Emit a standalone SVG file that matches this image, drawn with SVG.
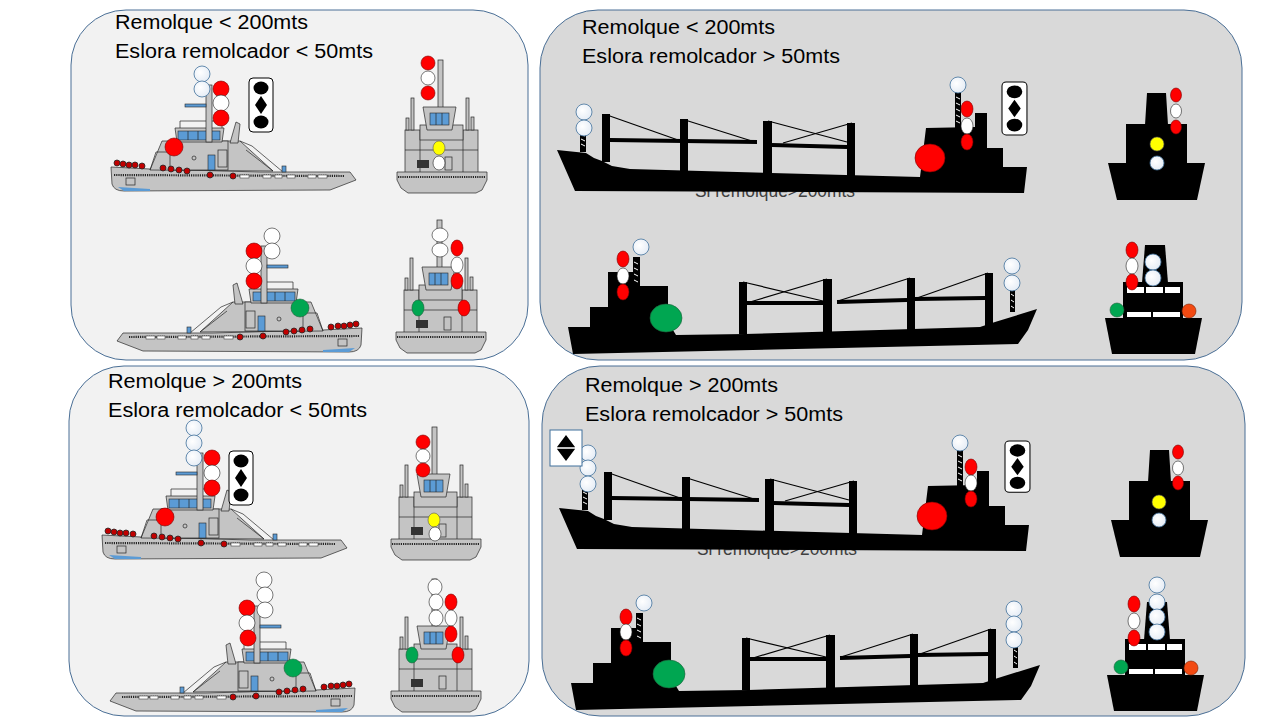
<svg xmlns="http://www.w3.org/2000/svg" xmlns:xlink="http://www.w3.org/1999/xlink" width="1280" height="720" viewBox="0 0 1280 720">
<style>
.pl{stroke:#4a6f96;stroke-width:1}
.t{font-family:"Liberation Sans",Arial,sans-serif;font-size:20px;fill:#000}
.h{font-family:"Liberation Sans",Arial,sans-serif;font-size:18px;fill:#404040}
.w{fill:url(#wl);stroke:#41719c;stroke-width:0.8}
.wb{fill:#fff;stroke:#222;stroke-width:0.6}
.r{fill:#ff0000;stroke:#7a0000;stroke-width:0.6}
.g{fill:#00a651;stroke:#1f5f3a;stroke-width:0.6}
.y{fill:#ffff00;stroke:#555;stroke-width:0.6}
.o{fill:#f24a12;stroke:#7a2000;stroke-width:0.6}
.k{fill:#000}
.ln{fill:none;stroke:#262626;stroke-width:0.7}
.gr{fill:#c4c4c4;stroke:#262626;stroke-width:0.7}
.bl{fill:#5b9bd5;stroke:#262626;stroke-width:0.6}
.st{stroke:#000;stroke-width:1.2}
.bm{stroke:#000;stroke-width:4}
.lat{stroke:#fff;stroke-width:1}
.box{fill:#fff;stroke:#000;stroke-width:1}
</style>
<defs>
<radialGradient id="wl" cx="0.4" cy="0.4" r="0.7">
<stop offset="0" stop-color="#ffffff"/>
<stop offset="1" stop-color="#e2eaf4"/>
</radialGradient>
<g id="tugSide">
<path class="gr" d="M111,167 L112,184 Q114,191 124,191 L330,190 L356,180 L350,172 L260,172 L150,169 Z" fill="#c9c9c9"/>
<path d="M118,187 L150,189 L150,191 L124,191 Z" fill="#5b9bd5"/>
<line x1="114" y1="175" x2="345" y2="176" stroke="#262626" stroke-width="2.2" stroke-dasharray="1.2,1"/>
<path class="gr" d="M150,170 L162,141 L240,141 L273,171 Z"/>
<path class="ln" d="M150,170 L156,152 L170,152 M240,141 L252,146 L283,172 M246,150 L273,171"/>
<rect class="gr" x="170" y="141" width="58" height="29"/>
<path class="gr" d="M175,128 L224,128 L222,142 L177,142 Z"/>
<rect class="bl" x="178" y="131" width="42" height="9"/>
<path class="ln" d="M188,131 V140 M198,131 V140 M210,131 V140 M180,128 V121 H222 V128"/>
<rect class="gr" x="206" y="85" width="6" height="57"/>
<rect class="bl" x="185" y="104" width="21" height="3"/>
<path class="gr" d="M230,143 L236,122 L240,124 L238,143 Z"/>
<rect class="gr" x="218" y="150" width="9" height="17"/>
<rect class="bl" x="208" y="155" width="7" height="15"/>
<circle class="ln" cx="194" cy="158" r="2"/>
<rect class="ln" x="126" y="178" width="9" height="7"/>
<rect class="bl" x="282" y="166" width="4" height="6"/>
<g fill="#c00000" stroke="#262626" stroke-width="0.8">
<circle cx="117" cy="163" r="3"/><circle cx="123" cy="164" r="3"/><circle cx="129" cy="165" r="3"/><circle cx="135" cy="165" r="3"/><circle cx="142" cy="166" r="3"/>
<circle cx="163" cy="168" r="3"/><circle cx="171" cy="169" r="3"/><circle cx="179" cy="170" r="3"/><circle cx="187" cy="171" r="3"/>
<circle cx="210" cy="175" r="3"/><circle cx="233" cy="176" r="3"/>
</g>
<g fill="#fff" stroke="#262626" stroke-width="0.5">
<rect x="240" y="175" width="9" height="3"/><rect x="263" y="175" width="8" height="3"/><rect x="275" y="175" width="7" height="3"/><rect x="287" y="175" width="8" height="3"/><rect x="308" y="175" width="8" height="3"/><rect x="318" y="175" width="9" height="3"/>
</g>
</g>
<g id="tugFront">
<rect class="gr" x="405" y="130" width="73" height="43"/>
<path class="ln" d="M420,130 V172 M463,130 V172 M405,150 H478"/>
<rect class="gr" x="420" y="125" width="43" height="15" fill="#d9d9d9"/>
<rect class="gr" x="438" y="60" width="5" height="48"/>
<path class="gr" d="M423,107 L456,107 L452,130 L427,130 Z"/>
<rect class="bl" x="430" y="113" width="19" height="12"/>
<path class="ln" d="M436,113 V125 M442,113 V125"/>
<rect class="gr" x="406" y="118" width="3" height="12"/>
<rect class="gr" x="411" y="98" width="3" height="32"/>
<rect class="gr" x="466" y="98" width="3" height="32"/>
<rect class="gr" x="471" y="117" width="3" height="13"/>
<rect x="417" y="160" width="12" height="8" fill="#333"/>
<rect class="gr" x="445" y="157" width="7" height="13" fill="#e0e0e0"/>
<path class="gr" d="M397,172 L487,172 L487,180 L482,190 L476,193 L408,193 L401,188 L397,180 Z" fill="#d0d0d0"/>
<line x1="398" y1="177" x2="486" y2="177" stroke="#262626" stroke-width="2.2" stroke-dasharray="1.2,1"/>
</g>
<g id="cargoA">
<path class="k" d="M557,150 L586,153 L594,158 L602,161 L612,166 L630,169 L920,177 L926,128 L975,127 L975,113 L987,113 L987,148 L1003,148 L1003,167 L1027,167 L1024,193 L575,191 Z"/>
<rect class="k" x="602" y="114" width="8" height="48"/>
<rect class="k" x="680" y="119" width="8" height="53"/>
<rect class="k" x="763" y="121" width="9" height="55"/>
<rect class="k" x="847" y="123" width="8" height="54"/>
<line class="bm" x1="610" y1="140" x2="757" y2="142"/>
<line class="bm" x1="772" y1="145" x2="847" y2="147"/>
<line class="st" x1="607" y1="115" x2="678" y2="140"/>
<line class="st" x1="685" y1="120" x2="755" y2="142"/>
<line class="st" x1="768" y1="121" x2="847" y2="142"/>
<line class="st" x1="852" y1="123" x2="783" y2="143"/>
<rect class="k" x="580" y="130" width="6" height="22"/>
<path class="lat" d="M581,134 L585,136 M581,139 L585,141 M581,144 L585,146"/>
<rect class="k" x="955" y="92" width="6" height="36"/>
<path class="lat" d="M956,97 L960,99 M956,103 L960,105 M956,109 L960,111 M956,115 L960,117 M956,121 L960,123"/>
</g>
<g id="cargoB">
<path class="k" d="M568,327 L590,327 L590,307 L608,307 L608,272 L633,272 L633,286 L668,286 L668,322 L676,335 L745,334 L980,327 L995,322 L1037,309 L1028,330 L1018,344 L573,354 Z"/>
<rect class="k" x="739" y="282" width="8" height="52"/>
<rect class="k" x="823" y="279" width="9" height="54"/>
<rect class="k" x="907" y="278" width="8" height="52"/>
<rect class="k" x="985" y="273" width="8" height="55"/>
<line class="bm" x1="747" y1="303" x2="823" y2="303"/>
<line class="bm" x1="837" y1="302" x2="907" y2="300"/>
<line class="bm" x1="915" y1="299" x2="985" y2="298"/>
<line class="st" x1="743" y1="282" x2="823" y2="301"/>
<line class="st" x1="827" y1="279" x2="750" y2="302"/>
<line class="st" x1="910" y1="278" x2="838" y2="301"/>
<line class="st" x1="988" y1="273" x2="917" y2="298"/>
<rect class="k" x="633" y="257" width="7" height="30"/>
<path class="lat" d="M634,262 L638,264 M634,268 L638,270 M634,274 L638,276 M634,280 L638,282"/>
<rect class="k" x="1010" y="290" width="5" height="22"/>
<path class="lat" d="M1011,294 L1014,296 M1011,300 L1014,302 M1011,306 L1014,308"/>
</g>
<g id="frontA">
<path class="k" d="M1147,93 L1166,93 L1168,125 L1145,125 Z"/>
<rect class="k" x="1126" y="124" width="61" height="40"/>
<path class="k" d="M1108,163 L1205,163 L1197,200 L1117,200 Z"/>
</g>
<g id="frontB">
<path class="k" d="M1145,245 L1165,245 L1168,283 L1142,283 Z"/>
<rect class="k" x="1123" y="282" width="60" height="37"/>
<g fill="#fff"><rect x="1127" y="287" width="17" height="6"/><rect x="1146" y="287" width="17" height="6"/><rect x="1165" y="287" width="15" height="6"/>
<rect x="1127" y="312" width="24" height="5"/><rect x="1153" y="312" width="27" height="5"/></g>
<path class="k" d="M1105,318 L1202,318 L1195,354 L1112,354 Z"/>
</g>
<g id="sig">
<rect class="box" x="0" y="0" width="24" height="54" rx="4"/>
<ellipse class="k" cx="12" cy="10" rx="7.5" ry="6.5"/>
<path class="k" d="M12,18 L18,27 L12,36 L6,27 Z"/>
<ellipse class="k" cx="12" cy="44" rx="7.5" ry="6.5"/>
</g>
</defs>

<rect width="1280" height="720" fill="#fff"/>

<g id="panel-tl">
<rect class="pl" x="71" y="10" width="457" height="350" rx="55" fill="#f2f2f2"/>
<text class="t" x="115" y="29" textLength="193" lengthAdjust="spacingAndGlyphs">Remolque &lt; 200mts</text>
<text class="t" x="115" y="58" textLength="258" lengthAdjust="spacingAndGlyphs">Eslora remolcador &lt; 50mts</text>
<use xlink:href="#tugSide"/>
<circle class="w" cx="202" cy="74" r="8"/><circle class="w" cx="202" cy="89" r="8"/>
<circle class="r" cx="221" cy="89" r="8"/><circle class="wb" cx="221" cy="103" r="8"/><circle class="r" cx="221" cy="118" r="8"/>
<circle class="r" cx="174" cy="147" r="9"/>
<use xlink:href="#sig" transform="translate(249,78)"/>
<use xlink:href="#tugFront"/>
<ellipse class="r" cx="428" cy="63" rx="7" ry="7"/><ellipse class="wb" cx="428" cy="78" rx="7" ry="7"/><ellipse class="r" cx="428" cy="93" rx="7" ry="7"/>
<ellipse class="y" cx="439" cy="148" rx="6" ry="7"/><ellipse class="wb" cx="439" cy="163" rx="6" ry="7"/>
<use xlink:href="#tugSide" transform="translate(473,161) scale(-1,1)"/>
<circle class="wb" cx="272" cy="236" r="8"/><circle class="wb" cx="272" cy="251" r="8"/>
<circle class="r" cx="254" cy="251" r="8"/><circle class="wb" cx="254" cy="266" r="8"/><circle class="r" cx="254" cy="281" r="8"/>
<circle class="g" cx="300" cy="308" r="9"/>
<use xlink:href="#tugFront" transform="translate(-1,160)"/>
<ellipse class="wb" cx="440" cy="235" rx="8" ry="7"/><ellipse class="wb" cx="440" cy="250" rx="8" ry="7"/>
<ellipse class="r" cx="457" cy="248" rx="6" ry="8"/><ellipse class="wb" cx="457" cy="265" rx="6" ry="8"/><ellipse class="r" cx="457" cy="281" rx="6" ry="8"/>
<ellipse class="g" cx="418" cy="308" rx="6" ry="8"/><ellipse class="r" cx="464" cy="308" rx="6" ry="8"/>
</g>

<g id="panel-tr">
<rect class="pl" x="540" y="10" width="702" height="350" rx="58" fill="#d9d9d9"/>
<text class="t" x="582" y="34" textLength="193" lengthAdjust="spacingAndGlyphs">Remolque &lt; 200mts</text>
<text class="t" x="582" y="63" textLength="258" lengthAdjust="spacingAndGlyphs">Eslora remolcador &gt; 50mts</text>
<text class="h" x="695" y="197" textLength="160" lengthAdjust="spacingAndGlyphs">Si remolque&gt;200mts</text>
<use xlink:href="#cargoA"/>
<circle class="w" cx="584" cy="112" r="8"/><circle class="w" cx="584" cy="128" r="8"/>
<circle class="w" cx="958" cy="85" r="8"/>
<ellipse class="r" cx="967" cy="109" rx="6" ry="8"/><ellipse class="wb" cx="967" cy="126" rx="6" ry="8"/><ellipse class="r" cx="967" cy="142" rx="6" ry="8"/>
<ellipse class="r" cx="930" cy="158" rx="15" ry="14" stroke="#666"/>
<use xlink:href="#sig" transform="translate(1002,82) scale(1.04,0.98)"/>
<use xlink:href="#frontA"/>
<ellipse class="r" cx="1176" cy="95" rx="5.5" ry="7"/><ellipse class="wb" cx="1176" cy="111" rx="5.5" ry="7"/><ellipse class="r" cx="1176" cy="127" rx="5.5" ry="7"/>
<circle class="y" cx="1157" cy="144" r="7"/><circle class="w" cx="1157" cy="163" r="7"/>
<use xlink:href="#cargoB"/>
<circle class="w" cx="641" cy="247" r="8"/>
<ellipse class="r" cx="623" cy="259" rx="6" ry="8"/><ellipse class="wb" cx="623" cy="276" rx="6" ry="8"/><ellipse class="r" cx="623" cy="292" rx="6" ry="8"/>
<ellipse class="g" cx="666" cy="318" rx="16" ry="14"/>
<circle class="w" cx="1012" cy="266" r="8"/><circle class="w" cx="1012" cy="283" r="8"/>
<use xlink:href="#frontB"/>
<ellipse class="r" cx="1132" cy="250" rx="6" ry="8"/><ellipse class="wb" cx="1132" cy="266" rx="6" ry="8"/><ellipse class="r" cx="1132" cy="282" rx="6" ry="8"/>
<circle class="w" cx="1153" cy="262" r="8"/><circle class="w" cx="1153" cy="278" r="8"/>
<circle class="g" cx="1117" cy="310" r="7"/><circle class="o" cx="1189" cy="311" r="7"/>
</g>

<g id="panel-bl">
<rect class="pl" x="69" y="366" width="460" height="350" rx="55" fill="#f2f2f2"/>
<text class="t" x="108" y="388" textLength="194" lengthAdjust="spacingAndGlyphs">Remolque &gt; 200mts</text>
<text class="t" x="108" y="417" textLength="259" lengthAdjust="spacingAndGlyphs">Eslora remolcador &lt; 50mts</text>
<use xlink:href="#tugSide" transform="translate(-9,368)"/>
<circle class="w" cx="194" cy="428" r="8"/><circle class="w" cx="194" cy="443" r="8"/><circle class="w" cx="194" cy="458" r="8"/>
<circle class="r" cx="212" cy="458" r="8"/><circle class="wb" cx="212" cy="473" r="8"/><circle class="r" cx="212" cy="488" r="8"/>
<circle class="r" cx="165" cy="517" r="9"/>
<use xlink:href="#sig" transform="translate(229,451)"/>
<use xlink:href="#tugFront" transform="translate(-6,367)"/>
<ellipse class="r" cx="423" cy="442" rx="7" ry="7"/><ellipse class="wb" cx="423" cy="456" rx="7" ry="7"/><ellipse class="r" cx="423" cy="470" rx="7" ry="7"/>
<ellipse class="y" cx="434" cy="520" rx="6" ry="7"/><ellipse class="wb" cx="435" cy="534" rx="6" ry="7"/>
<use xlink:href="#tugSide" transform="translate(466,521) scale(-1,1)"/>
<circle class="wb" cx="264" cy="580" r="8"/><circle class="wb" cx="265" cy="595" r="8"/><circle class="wb" cx="265" cy="610" r="8"/>
<circle class="r" cx="247" cy="608" r="8"/><circle class="wb" cx="247" cy="623" r="8"/><circle class="r" cx="248" cy="638" r="8"/>
<circle class="g" cx="293" cy="668" r="9"/>
<use xlink:href="#tugFront" transform="translate(-6,519)"/>
<ellipse class="wb" cx="435" cy="587" rx="7" ry="8"/><ellipse class="wb" cx="436" cy="602" rx="7" ry="8"/><ellipse class="wb" cx="436" cy="618" rx="7" ry="8"/>
<ellipse class="r" cx="451" cy="602" rx="6" ry="8"/><ellipse class="wb" cx="451" cy="618" rx="6" ry="8"/><ellipse class="r" cx="451" cy="634" rx="6" ry="8"/>
<ellipse class="g" cx="412" cy="655" rx="6" ry="8"/><ellipse class="r" cx="458" cy="655" rx="6" ry="8"/>
</g>

<g id="panel-br">
<rect class="pl" x="542" y="366" width="703" height="350" rx="58" fill="#d9d9d9"/>
<text class="t" x="585" y="392" textLength="193" lengthAdjust="spacingAndGlyphs">Remolque &gt; 200mts</text>
<text class="t" x="585" y="421" textLength="258" lengthAdjust="spacingAndGlyphs">Eslora remolcador &gt; 50mts</text>
<text class="h" x="697" y="555" textLength="160" lengthAdjust="spacingAndGlyphs">Si remolque&gt;200mts</text>
<use xlink:href="#cargoA" transform="translate(2,358)"/>
<circle class="w" cx="588" cy="453" r="8"/><circle class="w" cx="588" cy="468" r="8"/><circle class="w" cx="588" cy="484" r="8"/>
<rect x="550" y="430" width="32" height="36" fill="#fff" stroke="#41719c" stroke-width="1"/>
<path class="k" d="M566,435 L575,447 L557,447 Z M557,449 L575,449 L566,461 Z"/>
<line x1="557" y1="448" x2="575" y2="448" stroke="#888" stroke-width="1"/>
<circle class="w" cx="960" cy="443" r="8"/>
<ellipse class="r" cx="971" cy="467" rx="6" ry="8"/><ellipse class="wb" cx="971" cy="483" rx="6" ry="8"/><ellipse class="r" cx="971" cy="499" rx="6" ry="8"/>
<ellipse class="r" cx="932" cy="516" rx="15" ry="14" stroke="#666"/>
<use xlink:href="#sig" transform="translate(1005,441) scale(1.04,0.95)"/>
<use xlink:href="#frontA" transform="translate(3,357)"/>
<ellipse class="r" cx="1178" cy="452" rx="5.5" ry="7"/><ellipse class="wb" cx="1178" cy="468" rx="5.5" ry="7"/><ellipse class="r" cx="1178" cy="483" rx="5.5" ry="7"/>
<circle class="y" cx="1159" cy="502" r="7"/><circle class="w" cx="1159" cy="520" r="7"/>
<use xlink:href="#cargoB" transform="translate(3,356)"/>
<circle class="w" cx="644" cy="603" r="8"/>
<ellipse class="r" cx="626" cy="617" rx="6" ry="8"/><ellipse class="wb" cx="626" cy="632" rx="6" ry="8"/><ellipse class="r" cx="626" cy="648" rx="6" ry="8"/>
<ellipse class="g" cx="669" cy="674" rx="16" ry="14"/>
<circle class="w" cx="1014" cy="609" r="8"/><circle class="w" cx="1014" cy="624" r="8"/><circle class="w" cx="1014" cy="640" r="8"/>
<use xlink:href="#frontB" transform="translate(2,357)"/>
<circle class="w" cx="1157" cy="585" r="8"/><circle class="w" cx="1157" cy="602" r="8"/><circle class="w" cx="1157" cy="617" r="8"/><circle class="w" cx="1157" cy="632" r="8"/>
<ellipse class="r" cx="1134" cy="604" rx="6" ry="8"/><ellipse class="wb" cx="1134" cy="621" rx="6" ry="8"/><ellipse class="r" cx="1134" cy="638" rx="6" ry="8"/>
<circle class="g" cx="1121" cy="667" r="7"/><circle class="o" cx="1191" cy="668" r="7"/>
</g>
</svg>
